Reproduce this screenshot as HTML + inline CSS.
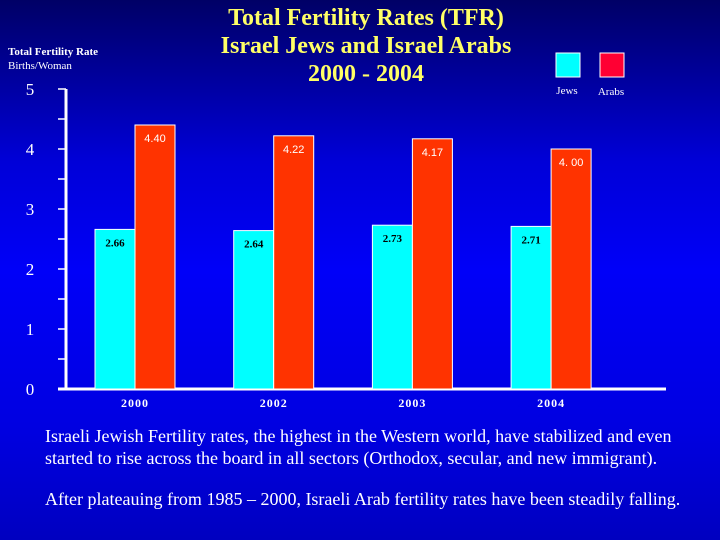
<!DOCTYPE html>
<html><head><meta charset="utf-8"><style>
body{margin:0}
#page{position:relative;width:720px;height:540px;overflow:hidden;background:linear-gradient(#000066 0%,#0000d8 30%,#0000f8 50%,#0000e0 80%,#0000c0 100%);font-family:"Liberation Serif",serif;color:#fff}
.t{position:absolute;white-space:nowrap}
</style></head><body>
<div id="page">
<div class="t" style="left:166px;top:4px;width:400px;text-align:center;color:#ffff66;font-weight:bold;font-size:24px;line-height:28px">Total Fertility Rates (TFR)<br>Israel Jews and Israel Arabs<br>2000 - 2004</div>
<div class="t" style="left:8px;top:46px;font-size:11px;font-weight:bold">Total Fertility Rate</div>
<div class="t" style="left:8px;top:60px;font-size:11px">Births/Woman</div>
<svg id="chart" width="720" height="420" style="position:absolute;left:0;top:0"></svg>
<div class="t" style="left:45px;top:425px;font-size:18px;line-height:22px">Israeli Jewish Fertility rates, the highest in the Western world, have stabilized and even<br>started to rise across the board in all sectors (Orthodox, secular, and new immigrant).</div>
<div class="t" style="left:45px;top:489px;font-size:18px">After plateauing from 1985 – 2000, Israeli Arab fertility rates have been steadily falling.</div>
</div>
<script>
const years=["2000","2002","2003","2004"];
const jews=[2.66,2.64,2.73,2.71];
const arabs=[4.40,4.22,4.17,4.00];
const jewLabels=["2.66","2.64","2.73","2.71"];
const arabLabels=["4.40","4.22","4.17","4. 00"];
const yTicks=[0,1,2,3,4,5];
const NS="http://www.w3.org/2000/svg";
const svg=document.getElementById('chart');
const y0=389,unit=60;
function y(v){return y0-v*unit;}
function gx(i){return 135+i*138.7;}
function el(t,a,p){const e=document.createElementNS(NS,t);for(const k in a)e.setAttribute(k,a[k]);(p||svg).appendChild(e);return e;}
let ya=el('line',{x1:66,y1:89,x2:66,y2:y0,stroke:'#fff','stroke-width':3});


let xa=el('line',{x1:58,y1:y0,x2:666,y2:y0,stroke:'#fff','stroke-width':3});


for(let v=0;v<=5;v+=0.5){el('line',{x1:58,y1:y(v),x2:66,y2:y(v),stroke:'#fff','stroke-width':1.5});}
yTicks.forEach(v=>{const t=el('text',{x:30,y:y(v)+6,'font-size':17,fill:'#fff','text-anchor':'middle','font-family':'Liberation Serif'});t.textContent=v;

});
years.forEach((yr,i)=>{
 const c=gx(i);
 const bj=el('rect',{x:c-40,y:y(jews[i]),width:40,height:jews[i]*unit,fill:'#00ffff',stroke:'#fff','stroke-width':1});
 
 
 const ba=el('rect',{x:c,y:y(arabs[i]),width:40,height:arabs[i]*unit,fill:'#ff3300',stroke:'#fff','stroke-width':1});
 
 
 const tj=el('text',{x:c-20,y:y(jews[i])+17,'font-size':11,'font-weight':'bold',fill:'#000','text-anchor':'middle','font-family':'Liberation Serif'});tj.textContent=jewLabels[i];
 
 
 const ta=el('text',{x:c+20,y:y(arabs[i])+17,'font-size':11,fill:'#fff','text-anchor':'middle','font-family':'Liberation Sans'});ta.textContent=arabLabels[i];
 
 
 const tx=el('text',{x:c,y:y0+18,'font-size':12,'font-weight':'bold',fill:'#fff','text-anchor':'middle','font-family':'Liberation Serif','letter-spacing':1});tx.textContent=yr;
 
 
});
const lj=el('rect',{x:556,y:53,width:24,height:24,fill:'#00ffff',stroke:'#fff','stroke-width':1});


const la=el('rect',{x:600,y:53,width:24,height:24,fill:'#ff0033',stroke:'#fff','stroke-width':1});


const ltj=el('text',{x:567,y:94,'font-size':11,fill:'#fff','text-anchor':'middle','font-family':'Liberation Serif'});ltj.textContent='Jews';


const lta=el('text',{x:611,y:95,'font-size':11,fill:'#fff','text-anchor':'middle','font-family':'Liberation Serif'});lta.textContent='Arabs';


</script>
</body></html>
